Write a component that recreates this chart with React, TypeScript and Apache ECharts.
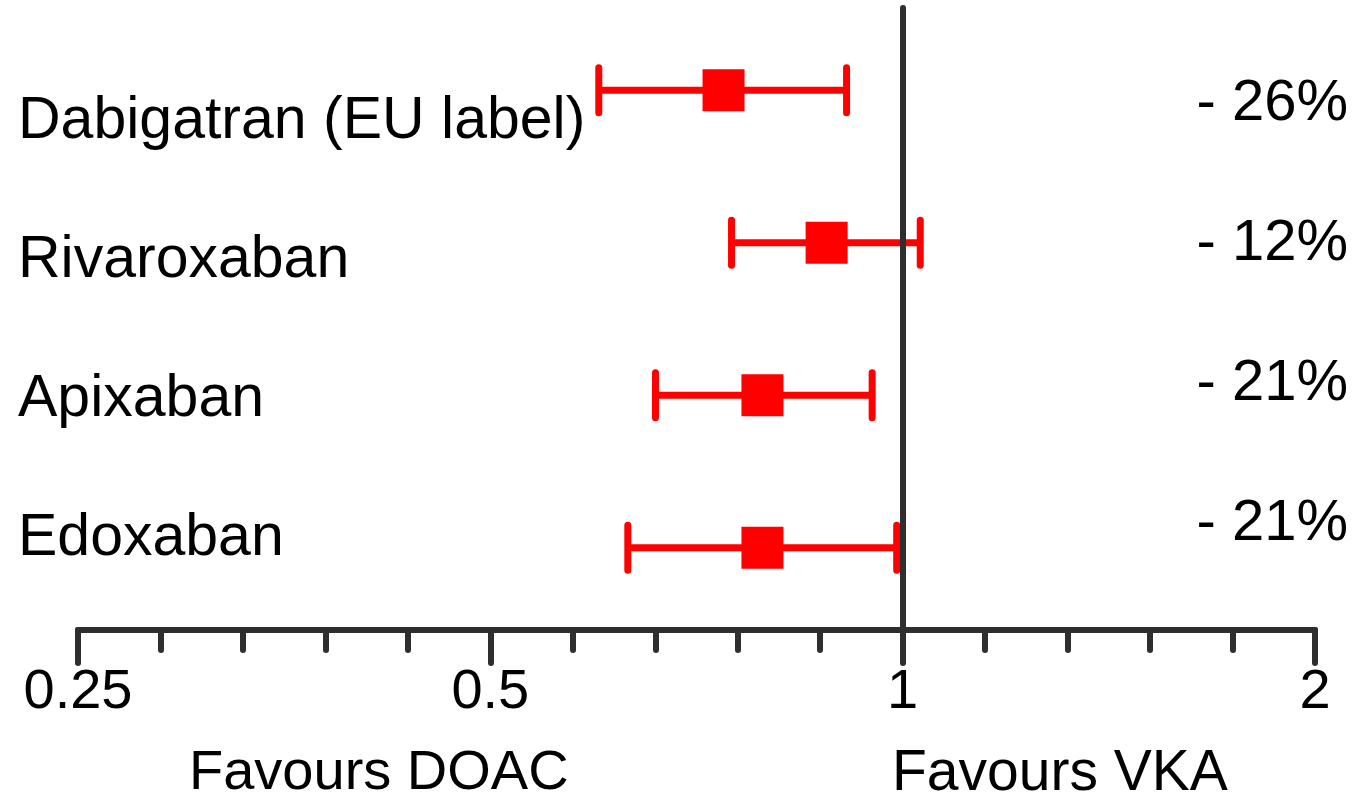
import React, { useEffect, useRef } from "react";
import * as echarts from "echarts";

// ---- data ----
const drugs = ["Dabigatran (EU label)", "Rivaroxaban", "Apixaban", "Edoxaban"];
const hazardRatio = [0.74, 0.88, 0.79, 0.79];
const ciLower = [0.6, 0.75, 0.66, 0.63];
const ciUpper = [0.91, 1.03, 0.95, 0.99];
const reductionLabels = ["- 26%", "- 12%", "- 21%", "- 21%"];
const tickValues = [0.25, 0.5, 1, 2];
const favourLabels = ["Favours DOAC", "Favours VKA"];

const FONT = "'Liberation Sans', Arial, Helvetica, sans-serif";
const RED = "#ff0000";
const AXIS = "#2e2e2e";

export default function App() {
  const ref = useRef<HTMLDivElement>(null);

  useEffect(() => {
    if (!ref.current) return;
    const chart = echarts.init(ref.current, null, { renderer: "svg" });
    const n = drugs.length;
    const rows = drugs.map((_, i) => [
      Math.log2(ciLower[i]),
      Math.log2(ciUpper[i]),
      Math.log2(hazardRatio[i]),
      n - i,
    ]);
    const xMin = Math.log2(tickValues[0]);
    const xMax = Math.log2(tickValues[tickValues.length - 1]);

    const graphics: any[] = [];
    drugs.forEach((name, i) => {
      graphics.push({
        type: "text",
        left: 18,
        top: 119 + i * 139 - 31,
        style: { text: name, fontSize: 59, fontFamily: FONT, fill: "#000" },
      });
    });
    reductionLabels.forEach((t, i) => {
      graphics.push({
        type: "text",
        right: 12,
        top: 100 + i * 140 - 30,
        style: { text: t, fontSize: 58, fontFamily: FONT, fill: "#000" },
      });
    });
    graphics.push({
      type: "text",
      left: 189,
      top: 741,
      style: { text: favourLabels[0], fontSize: 56, fontFamily: FONT, fill: "#000" },
    });
    graphics.push({
      type: "text",
      left: 892,
      top: 741,
      style: { text: favourLabels[1], fontSize: 57, fontFamily: FONT, fill: "#000" },
    });

    chart.setOption({
      animation: false,
      backgroundColor: "#ffffff",
      grid: { left: 78, right: 45, top: 8, bottom: 170, containLabel: false },
      xAxis: {
        type: "value",
        min: xMin,
        max: xMax,
        interval: 1,
        splitLine: { show: false },
        axisLine: { show: true, onZero: false, lineStyle: { color: AXIS, width: 6, cap: "round" } },
        axisTick: { show: true, length: 33, lineStyle: { color: AXIS, width: 6, cap: "round" } },
        minorTick: { show: true, splitNumber: 5, length: 20, lineStyle: { color: AXIS, width: 6, cap: "round" } },
        minorSplitLine: { show: false },
        axisLabel: {
          margin: 30,
          fontSize: 56,
          fontFamily: FONT,
          color: "#000",
          formatter: (v: number) => {
            const val = Math.pow(2, v);
            const found = tickValues.find((t) => Math.abs(t - val) < 1e-9);
            return found !== undefined ? String(found) : "";
          },
        },
      },
      yAxis: {
        type: "value",
        min: 0.46,
        max: n + 0.54,
        show: false,
      },
      series: [
        {
          type: "custom",
          z: 2,
          clip: false,
          encode: { x: [0, 1, 2], y: 3 },
          data: rows,
          renderItem: (params: any, api: any) => {
            const y = api.value(3);
            const lo = api.coord([api.value(0), y]);
            const hi = api.coord([api.value(1), y]);
            const mid = api.coord([api.value(2), y]);
            const capH = 45;
            const sq = 42;
            const lw = 7;
            return {
              type: "group",
              children: [
                {
                  type: "line",
                  shape: { x1: lo[0], y1: lo[1], x2: hi[0], y2: hi[1] },
                  style: { stroke: RED, lineWidth: lw },
                },
                {
                  type: "line",
                  shape: { x1: lo[0], y1: lo[1] - capH / 2, x2: lo[0], y2: lo[1] + capH / 2 },
                  style: { stroke: RED, lineWidth: lw, lineCap: "round" },
                },
                {
                  type: "line",
                  shape: { x1: hi[0], y1: hi[1] - capH / 2, x2: hi[0], y2: hi[1] + capH / 2 },
                  style: { stroke: RED, lineWidth: lw, lineCap: "round" },
                },
                {
                  type: "rect",
                  shape: { x: mid[0] - sq / 2, y: mid[1] - sq / 2, width: sq, height: sq },
                  style: { fill: RED },
                },
              ],
            };
          },
        },
        {
          type: "line",
          z: 10,
          data: [],
          markLine: {
            silent: true,
            symbol: "none",
            label: { show: false },
            lineStyle: { color: AXIS, width: 6, type: "solid", cap: "round" },
            data: [{ xAxis: 0 }],
          },
        },
      ],
      graphic: graphics,
    });

    return () => chart.dispose();
  }, []);

  return (
    <div
      ref={ref}
      style={{ position: "fixed", left: 0, top: 0, width: 1360, height: 800 }}
    />
  );
}
